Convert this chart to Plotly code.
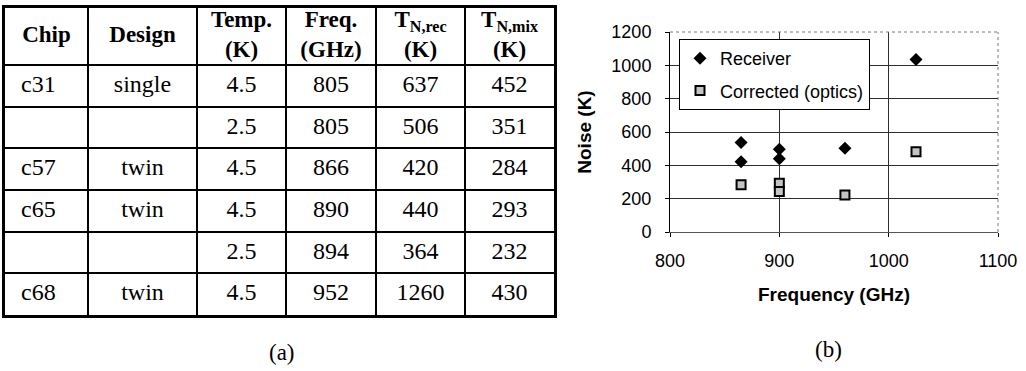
import plotly.graph_objects as go

# ---- table (a) data ----
headers = ["Chip", "Design", "Temp.<br>(K)", "Freq.<br>(GHz)",
           "T<sub>N,rec</sub><br>(K)", "T<sub>N,mix</sub><br>(K)"]
chips = ["c31", "", "c57", "c65", "", "c68"]
designs = ["single", "", "twin", "twin", "", "twin"]
temps_k = ["4.5", "2.5", "4.5", "4.5", "2.5", "4.5"]
freqs_ghz = [805, 805, 866, 890, 894, 952]
t_rec_k = [637, 506, 420, 440, 364, 1260]
t_mix_k = [452, 351, 284, 293, 232, 430]

# ---- plot (b) data ----
receiver_freq = [865, 865, 900, 900, 960, 1025]
receiver_noise = [537, 422, 497, 440, 502, 1035]
corrected_freq = [865, 900, 900, 960, 1025]
corrected_noise = [283, 292, 243, 222, 481]

W, H = 1026, 371
SERIF = "Liberation Serif"
SANS = "Liberation Sans"

# table geometry (in table-axis units, which equal pixels)
col_w = [83, 109, 89, 90, 89, 89]
header_h = 57
row_h = 41.67
n_rows = len(chips)
tab_left, tab_top = 5, 8
tab_w = sum(col_w)
tab_h = header_h + n_rows * row_h

col_edges = [0]
for w in col_w:
    col_edges.append(col_edges[-1] + w)
row_edges = [0, header_h] + [header_h + (i + 1) * row_h for i in range(n_rows)]
col_mid = [(col_edges[i] + col_edges[i + 1]) / 2 for i in range(len(col_w))]
row_mid = [(row_edges[i + 1] + row_edges[i + 2]) / 2 for i in range(n_rows)]

fig = go.Figure()

# header cells
fig.add_trace(go.Scatter(
    x=col_mid, y=[header_h / 2] * len(headers),
    text=[f"<b>{h}</b>" for h in headers],
    mode="text", textposition="middle center",
    textfont=dict(family=SERIF, size=23, color="black"),
    xaxis="x2", yaxis="y2", showlegend=False, hoverinfo="skip",
))

# body cells, column by column (blank cells are left empty)
columns = [chips, designs, temps_k, [str(v) for v in freqs_ghz],
           [str(v) for v in t_rec_k], [str(v) for v in t_mix_k]]
chip_pad = 16
for ci, col in enumerate(columns):
    rows = [ri for ri, v in enumerate(col) if v]
    if ci == 0:
        xs = [col_edges[0] + chip_pad] * len(rows)
        pos = "middle right"
    else:
        xs = [col_mid[ci]] * len(rows)
        pos = "middle center"
    fig.add_trace(go.Scatter(
        x=xs, y=[row_mid[ri] for ri in rows], text=[col[ri] for ri in rows],
        mode="text", textposition=pos,
        textfont=dict(family=SERIF, size=24, color="black"),
        xaxis="x2", yaxis="y2", showlegend=False, hoverinfo="skip",
    ))

# scatter plot traces
fig.add_trace(go.Scatter(
    x=receiver_freq, y=receiver_noise, mode="markers", name="Receiver",
    legendgroup="rx",
    marker=dict(symbol="diamond", size=10, color="black",
                line=dict(width=0)),
))
fig.add_trace(go.Scatter(
    x=corrected_freq, y=corrected_noise, mode="markers",
    name="Corrected (optics)", legendgroup="cor",
    marker=dict(symbol="square", size=9, color="#c4c4c4",
                line=dict(width=2, color="black")),
))

px0, px1 = 670, 998
py_top, py_bot = 32, 232

fig.update_layout(
    width=W, height=H, autosize=False,
    margin=dict(l=0, r=0, t=0, b=0, autoexpand=False),
    paper_bgcolor="white", plot_bgcolor="white",
    font=dict(family=SANS, size=18, color="black"),
    xaxis=dict(
        domain=[px0 / W, px1 / W], range=[800, 1100], dtick=100,
        tick0=800, ticks="outside", ticklen=4, tickcolor="black",
        showline=True, linecolor="#555", linewidth=1,
        showgrid=True, gridcolor="#2e2e2e", gridwidth=1, zeroline=False,
        tickfont=dict(family=SANS, size=18), ticklabelstandoff=8,
        title=dict(text="<b>Frequency (GHz)</b>", standoff=18,
                   font=dict(family=SANS, size=19)),
        automargin=False, fixedrange=True,
    ),
    yaxis=dict(
        domain=[1 - py_bot / H, 1 - py_top / H], range=[0, 1200], dtick=200,
        ticks="outside", ticklen=4, tickcolor="black",
        showline=True, linecolor="black", linewidth=1,
        showgrid=True, gridcolor="#2e2e2e", gridwidth=1, zeroline=False,
        tickfont=dict(family=SANS, size=18), ticklabelstandoff=10,
        title=dict(text="<b>Noise (K)</b>", standoff=14,
                   font=dict(family=SANS, size=19)),
        automargin=False, fixedrange=True,
    ),
    xaxis2=dict(
        domain=[tab_left / W, (tab_left + tab_w) / W], range=[0, tab_w],
        anchor="y2", tickmode="array", tickvals=col_edges[1:-1],
        showticklabels=False, ticks="", showgrid=True, gridcolor="black",
        gridwidth=1.5, zeroline=False, showline=True, mirror=True,
        linecolor="black", linewidth=3, automargin=False, fixedrange=True,
    ),
    yaxis2=dict(
        domain=[1 - (tab_top + tab_h) / H, 1 - tab_top / H],
        range=[tab_h, 0], anchor="x2", tickmode="array",
        tickvals=row_edges[1:-1], showticklabels=False, ticks="",
        showgrid=True, gridcolor="black", gridwidth=1.5, zeroline=False,
        showline=True, mirror=True, linecolor="black", linewidth=3,
        automargin=False, fixedrange=True,
    ),
    legend=dict(
        x=679 / W, y=1 - 39 / H, xanchor="left", yanchor="top",
        bgcolor="white", bordercolor="black", borderwidth=1,
        font=dict(family=SANS, size=18, color="black"),
        tracegroupgap=6,
    ),
    showlegend=True,
)

# dotted top/right frame of the plot area
fig.add_shape(type="line", xref="x domain", yref="y domain",
              x0=0, x1=1, y0=1, y1=1, line=dict(color="#777", width=1, dash="dot"))
fig.add_shape(type="line", xref="x domain", yref="y domain",
              x0=1, x1=1, y0=0, y1=1, line=dict(color="#777", width=1, dash="dot"))

# panel captions
fig.add_annotation(text="(a)", x=282 / W, y=1 - 352 / H, xref="paper", yref="paper",
                   xanchor="center", yanchor="middle",
                   showarrow=False, font=dict(family=SERIF, size=23))
fig.add_annotation(text="(b)", x=828 / W, y=1 - 349 / H, xref="paper", yref="paper",
                   xanchor="center", yanchor="middle",
                   showarrow=False, font=dict(family=SERIF, size=23))

fig.write_html("out.html")
